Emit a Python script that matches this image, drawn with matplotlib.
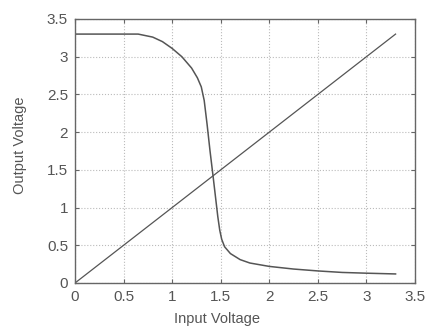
import matplotlib
matplotlib.use("Agg")
import matplotlib.pyplot as plt

vin = [0, 0.65, 0.8, 0.9, 1.0, 1.1, 1.2, 1.26, 1.3, 1.33, 1.36, 1.39, 1.42, 1.45, 1.47,
       1.49, 1.51, 1.54, 1.6, 1.7, 1.8, 2.0, 2.25, 2.5, 2.75, 3.0, 3.3]
vout = [3.3, 3.3, 3.26, 3.2, 3.11, 3.0, 2.85, 2.72, 2.6, 2.42, 2.1, 1.75, 1.43, 1.1, 0.88,
        0.7, 0.58, 0.48, 0.39, 0.31, 0.265, 0.22, 0.185, 0.16, 0.14, 0.13, 0.12]
ref_x = [0, 3.3]
ref_y = [0, 3.3]
ticks = [0, 0.5, 1, 1.5, 2, 2.5, 3, 3.5]
tick_labels = ["0", "0.5", "1", "1.5", "2", "2.5", "3", "3.5"]

plt.rcParams['font.family'] = ['Liberation Sans', 'DejaVu Sans']
fig = plt.figure(figsize=(4.29, 3.27), dpi=100)
ax = fig.add_axes([75/429, 1 - 283/327, (415-75)/429, (283-19)/327])
line_col = "#555555"
ax.plot(vin, vout, color=line_col, lw=1.1)
ax.plot(ref_x, ref_y, color=line_col, lw=0.9)
ax.set_xlim(0, 3.5)
ax.set_ylim(0, 3.5)
ax.set_xticks(ticks)
ax.set_xticklabels(tick_labels)
ax.set_yticks(ticks)
ax.set_yticklabels(tick_labels)
ax.grid(True, linestyle=':', color="#bbbbbb", lw=0.8)
ax.tick_params(direction='in', top=True, right=True, length=3, color="#666666",
               labelsize=11, labelcolor="#555555", pad=5)
for s in ax.spines.values():
    s.set_color("#666666")
    s.set_linewidth(1.0)
ax.set_xlabel("Input Voltage", fontsize=10.5, color="#555555")
ax.xaxis.set_label_coords(0.418, -0.11)
ax.set_ylabel("Output Voltage", fontsize=10.5, color="#555555")
ax.yaxis.set_label_coords(-0.14, 0.52)
fig.savefig("out.png", dpi=100)
